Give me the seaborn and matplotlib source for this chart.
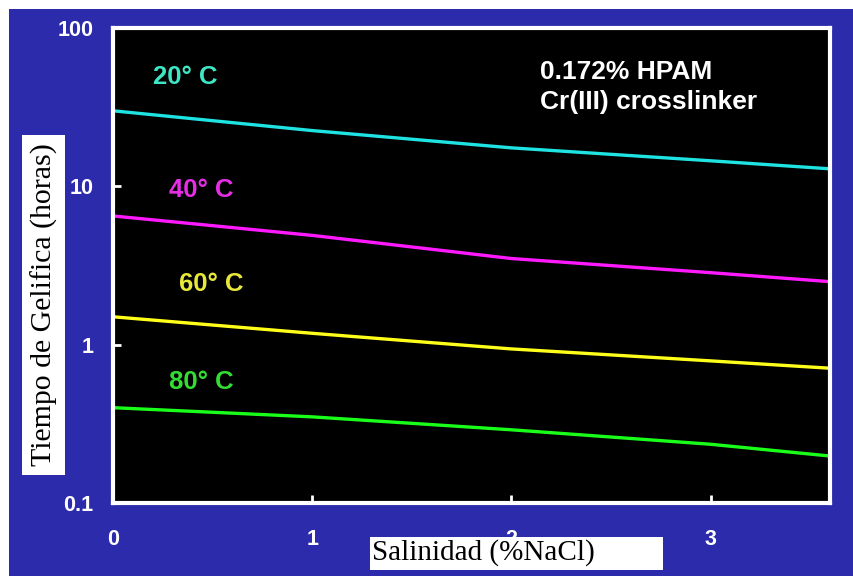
import numpy as np
import pandas as pd
import seaborn as sns
import matplotlib.pyplot as plt
from matplotlib.patches import Rectangle
from matplotlib.ticker import FixedLocator, NullLocator

# Data (gel time in hours vs salinity)
salinity = [0, 1, 2, 3, 3.6]
t20 = [30, 22.5, 17.5, 14.5, 12.9]
t40 = [6.5, 4.9, 3.5, 2.85, 2.5]
t60 = [1.5, 1.18, 0.94, 0.79, 0.71]
t80 = [0.40, 0.35, 0.29, 0.235, 0.198]
series = ['20° C', '40° C', '60° C', '80° C']
line_colors = ['#1fe3e3', '#ff19ff', '#ffff1a', '#19ff19']
text_colors = ['#3fe6c6', '#e62ee6', '#e8e83a', '#33dd33']

df = pd.DataFrame({
    'salinity': salinity * 4,
    'tiempo': t20 + t40 + t60 + t80,
    'temp': np.repeat(series, len(salinity)),
})

fig = plt.figure(figsize=(8.54, 5.76), dpi=100)
fig.patch.set_facecolor('white')

# blue slide background (behind the axes)
fig.patches.append(Rectangle((9 / 854, 0), 1, 1 - 9 / 576, transform=fig.transFigure,
                             facecolor='#2b2bab', edgecolor='none', zorder=-1))

ax = fig.add_axes([113 / 854, 1 - 503 / 576, 717 / 854, 475 / 576])
ax.set_facecolor('black')

sns.lineplot(data=df, x='salinity', y='tiempo', hue='temp', palette=line_colors,
             linewidth=2.4, legend=False, ax=ax)

ax.set_yscale('log')
ax.set_xlim(0, 3.6)
ax.set_ylim(0.1, 100)
ax.xaxis.set_major_locator(FixedLocator([0, 1, 2, 3]))
ax.yaxis.set_major_locator(FixedLocator([0.1, 1, 10, 100]))
ax.yaxis.set_minor_locator(NullLocator())
ax.set_xticklabels(['0', '1', '2', '3'])
ax.set_yticklabels(['0.1', '1', '10', '100'])
ax.tick_params(axis='both', direction='in', colors='white', length=6, width=2,
               labelsize=15.5)
ax.tick_params(axis='x', pad=19)
ax.tick_params(axis='y', pad=14)
for lab in ax.get_xticklabels() + ax.get_yticklabels():
    lab.set_fontweight('bold')
    lab.set_family('Liberation Sans')
for s in ax.spines.values():
    s.set_color('white')
    s.set_linewidth(3)
ax.set_xlabel('')
ax.set_ylabel('')

# temperature labels
label_pos = [(0.2, 49), (0.28, 9.5), (0.33, 2.4), (0.28, 0.58)]
for name, (x, y), c in zip(series, label_pos, text_colors):
    ax.text(x, y, name, color=c, fontsize=18.5, fontweight='bold',
            family='Liberation Sans', va='center', ha='left')

ax.text(0.596, 0.907, '0.172% HPAM', transform=ax.transAxes, color='white',
        fontsize=19, fontweight='bold', family='Liberation Sans', va='center')
ax.text(0.596, 0.844, 'Cr(III) crosslinker', transform=ax.transAxes, color='white',
        fontsize=19, fontweight='bold', family='Liberation Sans', va='center')

# axis titles on white boxes
fig.patches.append(Rectangle((22 / 854, 1 - 475 / 576), 43 / 854, 340 / 576,
                             transform=fig.transFigure, facecolor='white',
                             edgecolor='none', zorder=1))
fig.text(44 / 854, 1 - 305 / 576, 'Tiempo de Gelifica (horas)', rotation=90,
         ha='center', va='center', fontsize=21.5, family='Liberation Serif',
         color='black', zorder=2)
fig.patches.append(Rectangle((370 / 854, 1 - 570 / 576), 293 / 854, 33 / 576,
                             transform=fig.transFigure, facecolor='white',
                             edgecolor='none', zorder=1))
fig.text(372 / 854, 1 - 553 / 576, 'Salinidad (%NaCl)', ha='left', va='center',
         fontsize=21, family='Liberation Serif', color='black', zorder=2)

fig.savefig('out.png', dpi=100)
